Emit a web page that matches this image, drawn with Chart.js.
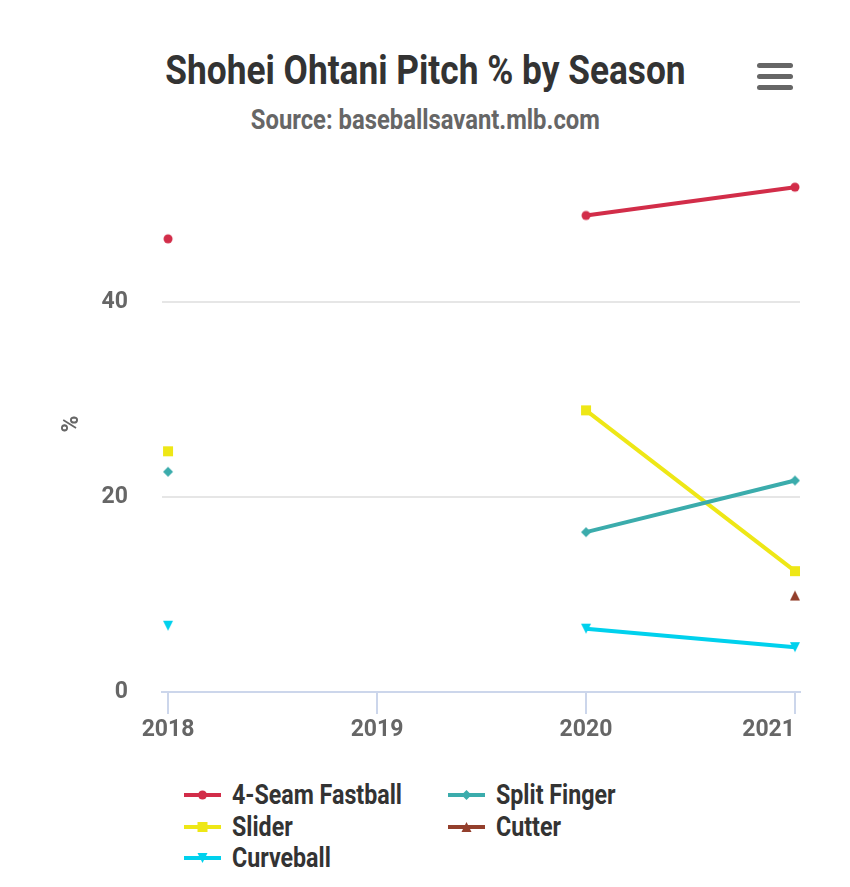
<!DOCTYPE html>
<html>
<head>
<meta charset="utf-8">
<script src="https://cdn.jsdelivr.net/npm/chart.js@4.4.0/dist/chart.umd.min.js"></script>
<style>
  body { margin: 0; background: #fff; font-family: Roboto, sans-serif; }
  #wrap { position: relative; width: 850px; height: 887px; overflow: hidden; }
  #chart { position: absolute; left: 0; top: 0; }
  .cond { display: inline-block; transform: scaleX(0.86); white-space: nowrap; }
  #title { position: absolute; left: 0; width: 850px; top: 50px; text-align: center;
           font-weight: 700; font-size: 41px; line-height: 41px; color: #333; }
  #subtitle { position: absolute; left: 0; width: 850px; top: 106px; text-align: center;
              font-weight: 700; font-size: 28px; line-height: 28px; color: #666; }
  #subtitle .cond { transform: scaleX(0.85); }
  .menu { position: absolute; left: 757px; width: 36px; height: 5px; border-radius: 3px; background: #666; }
  .item { position: absolute; height: 30px; display: flex; align-items: center; }
  .item canvas { margin-right: 11px; }
  .item .cond { transform-origin: left center; font-weight: 700; font-size: 27px; color: #333; }
</style>
</head>
<body>
<div id="wrap">
  <div id="title"><span class="cond">Shohei Ohtani Pitch % by Season</span></div>
  <div id="subtitle"><span class="cond">Source: baseballsavant.mlb.com</span></div>
  <div class="menu" style="top:63px"></div>
  <div class="menu" style="top:74px"></div>
  <div class="menu" style="top:85px"></div>
  <canvas id="chart" width="850" height="760"></canvas>
  <div id="legend"></div>
</div>
<script>
// seasons on the x axis (2019: no pitching)
const seasons = [2018, 2019, 2020, 2021];
const yTicks = [0, 20, 40];

// pitch usage %
const fourSeam    = [46.5, null, 48.9, 51.8];
const splitFinger = [22.6, null, 16.4, 21.7];
const slider      = [24.7, null, 28.9, 12.4];
const cutter      = [null, null, null, 9.9];
const curveball   = [6.8, null, 6.5, 4.6];

const names  = ['4-Seam Fastball', 'Split Finger', 'Slider', 'Cutter', 'Curveball'];
const series = [fourSeam, splitFinger, slider, cutter, curveball];
const colors = ['#D22D49', '#3BACAC', '#EEE716', '#933F2C', '#00D1ED'];
const shapes = ['circle', 'diamond', 'square', 'triangle', 'triangleDown'];

function drawMarker(g, shape, x, y, color) {
  g.fillStyle = color;
  g.beginPath();
  if (shape === 'circle') {
    g.arc(x, y, 4.5, 0, Math.PI * 2);
  } else if (shape === 'square') {
    g.rect(x - 5, y - 5, 10, 10);
  } else if (shape === 'diamond') {
    g.moveTo(x, y - 5); g.lineTo(x + 5, y); g.lineTo(x, y + 5); g.lineTo(x - 5, y);
  } else if (shape === 'triangle') {
    g.moveTo(x, y - 5); g.lineTo(x + 5, y + 5); g.lineTo(x - 5, y + 5);
  } else {
    g.moveTo(x - 5, y - 5); g.lineTo(x + 5, y - 5); g.lineTo(x, y + 5);
  }
  g.closePath();
  g.fill();
}

function markerImage(shape, color) {
  const c = document.createElement('canvas');
  c.width = 12; c.height = 12;
  drawMarker(c.getContext('2d'), shape, 6, 6, color);
  return c;
}

const tickFont = { family: 'Roboto', weight: 'bold', size: 23 };

const datasets = names.map((name, i) => ({
  label: name,
  data: seasons.map((s, j) => ({ x: s, y: series[i][j] })),
  borderColor: colors[i],
  backgroundColor: colors[i],
  borderWidth: 4,
  pointStyle: markerImage(shapes[i], colors[i]),
  pointRadius: 5,
  pointBorderWidth: 0,
  spanGaps: false,
  tension: 0
}));

// last x label sits flush right of its tick
const flushLast = {
  id: 'flushLast',
  beforeDraw(chart) {
    const items = chart.scales.x.getLabelItems(chart.chartArea);
    if (items.length) items[items.length - 1].options.textAlign = 'right';
  }
};

const chart = new Chart(document.getElementById('chart'), {
  type: 'line',
  data: { datasets },
  plugins: [flushLast],
  options: {
    responsive: false,
    animation: false,
    layout: { padding: { top: 156, right: 50, left: 0, bottom: 0 } },
    plugins: { legend: { display: false }, tooltip: { enabled: false } },
    scales: {
      x: {
        type: 'linear',
        min: 2017.971,
        max: 2021.024,
        afterBuildTicks: s => { s.ticks = seasons.map(v => ({ value: v })); },
        afterFit: s => { s.height = 68; },
        border: { display: true, color: '#ccd6eb', width: 2 },
        grid: { drawOnChartArea: false, drawTicks: true, tickLength: 22, color: '#ccd6eb', lineWidth: 2 },
        ticks: { padding: 2, maxRotation: 0, autoSkip: false, font: tickFont, color: '#666',
                 callback: v => String(v) }
      },
      y: {
        min: 0,
        max: 55,
        afterBuildTicks: s => { s.ticks = yTicks.map(v => ({ value: v })); },
        afterFit: s => { s.width = 162; },
        border: { display: false },
        grid: { drawTicks: false, lineWidth: 2,
                color: c => c.tick && c.tick.value === 0 ? 'rgba(0,0,0,0)' : '#e6e6e6' },
        ticks: { padding: 34, font: tickFont, color: '#666' },
        title: { display: true, text: '%', font: tickFont, color: '#666', padding: { top: 58 } }
      }
    }
  }
});

// legend, two columns like the original
const legend = document.getElementById('legend');
chart.data.datasets.forEach((ds, i) => {
  const item = document.createElement('div');
  item.className = 'item';
  item.style.left = (i % 2 ? 448 : 184) + 'px';
  item.style.top = (780 + Math.floor(i / 2) * 31.5) + 'px';
  const c = document.createElement('canvas');
  c.width = 37; c.height = 14;
  const g = c.getContext('2d');
  g.strokeStyle = ds.borderColor; g.lineWidth = 4;
  g.beginPath(); g.moveTo(0, 7); g.lineTo(37, 7); g.stroke();
  drawMarker(g, shapes[i], 18.5, 7, ds.borderColor);
  const t = document.createElement('span');
  t.className = 'cond';
  t.textContent = ds.label;
  item.appendChild(c);
  item.appendChild(t);
  legend.appendChild(item);
});
</script>
</body>
</html>
